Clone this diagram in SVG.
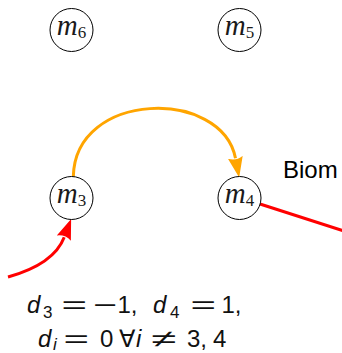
<svg xmlns="http://www.w3.org/2000/svg" width="342" height="353" viewBox="0 0 342 353">
<style>
.node circle{fill:#fff;stroke:#000;stroke-width:1}
.lbl{font-family:"Liberation Serif",serif;font-size:29px;font-style:italic;fill:#1a1a1a;text-anchor:middle}
.lbl .s{font-style:normal;font-size:17px}
.e{fill:none;stroke-width:3}
.or{stroke:#ffa500}
.rd{stroke:#ff0000}
.math{font-family:"Liberation Sans","DejaVu Sans",sans-serif;font-size:24px;fill:#111}
.it{font-style:italic}
.sub{font-size:17px}
</style>
<defs>
<marker id="ao" markerUnits="userSpaceOnUse" markerWidth="22" markerHeight="16" refX="1" refY="7.5" orient="auto"><path d="M0,0 L20.5,7.5 L0,15 Q4,7.5 0,0 z" fill="#ffa500"/></marker>
<marker id="ar" markerUnits="userSpaceOnUse" markerWidth="22" markerHeight="16" refX="1" refY="7.5" orient="auto"><path d="M0,0 L20.5,7.5 L0,15 Q4,7.5 0,0 z" fill="#ff0000"/></marker>
</defs>
<g id="connectors">
<path class="e or" d="M73.3,176.7 C75,90 222,88 235.5,158.3" marker-end="url(#ao)"/>
<path class="e rd" d="M8,277 Q54,264 64.2,237.2" marker-end="url(#ar)"/>
<path class="e rd" d="M260,204 L350,233"/>
</g>
<g id="m6" class="node"><circle cx="71.5" cy="30" r="21.5"/><text class="lbl" x="71.5" y="35">m<tspan class="s" dy="3">6</tspan></text></g>
<g id="m5" class="node"><circle cx="239.5" cy="30" r="21.5"/><text class="lbl" x="239.5" y="35">m<tspan class="s" dy="3">5</tspan></text></g>
<g id="m3" class="node"><circle cx="71.5" cy="198" r="21.5"/><text class="lbl" x="71.5" y="203">m<tspan class="s" dy="3">3</tspan></text></g>
<g id="m4" class="node"><circle cx="239.5" cy="198" r="21.5"/><text class="lbl" x="239.5" y="203">m<tspan class="s" dy="3">4</tspan></text></g>
<text x="283" y="177.5" font-family="Liberation Sans, sans-serif" font-size="24" fill="#000">Biom</text>
<text class="math" y="313"><tspan class="it" x="27">d</tspan><tspan class="sub" x="43" dy="5">3</tspan><tspan x="61.5" dy="-5" textLength="25.5" lengthAdjust="spacingAndGlyphs">=</tspan><tspan x="93" textLength="24" lengthAdjust="spacingAndGlyphs">−</tspan><tspan x="117.5">1,</tspan><tspan class="it" x="153">d</tspan><tspan class="sub" x="170" dy="5">4</tspan><tspan x="190.5" dy="-5" textLength="25.5" lengthAdjust="spacingAndGlyphs">=</tspan><tspan x="221.5">1,</tspan></text>
<text class="math" y="347"><tspan class="it" x="38">d</tspan><tspan class="sub it" x="53" dy="3">i</tspan><tspan x="63.5" dy="-3" textLength="25.5" lengthAdjust="spacingAndGlyphs">=</tspan><tspan x="100">0</tspan><tspan x="119" font-family="DejaVu Sans, sans-serif">∀</tspan><tspan class="it" x="136">i</tspan><tspan x="151" textLength="25" lengthAdjust="spacingAndGlyphs">≠</tspan><tspan x="187">3,</tspan><tspan x="213">4</tspan></text>
</svg>
